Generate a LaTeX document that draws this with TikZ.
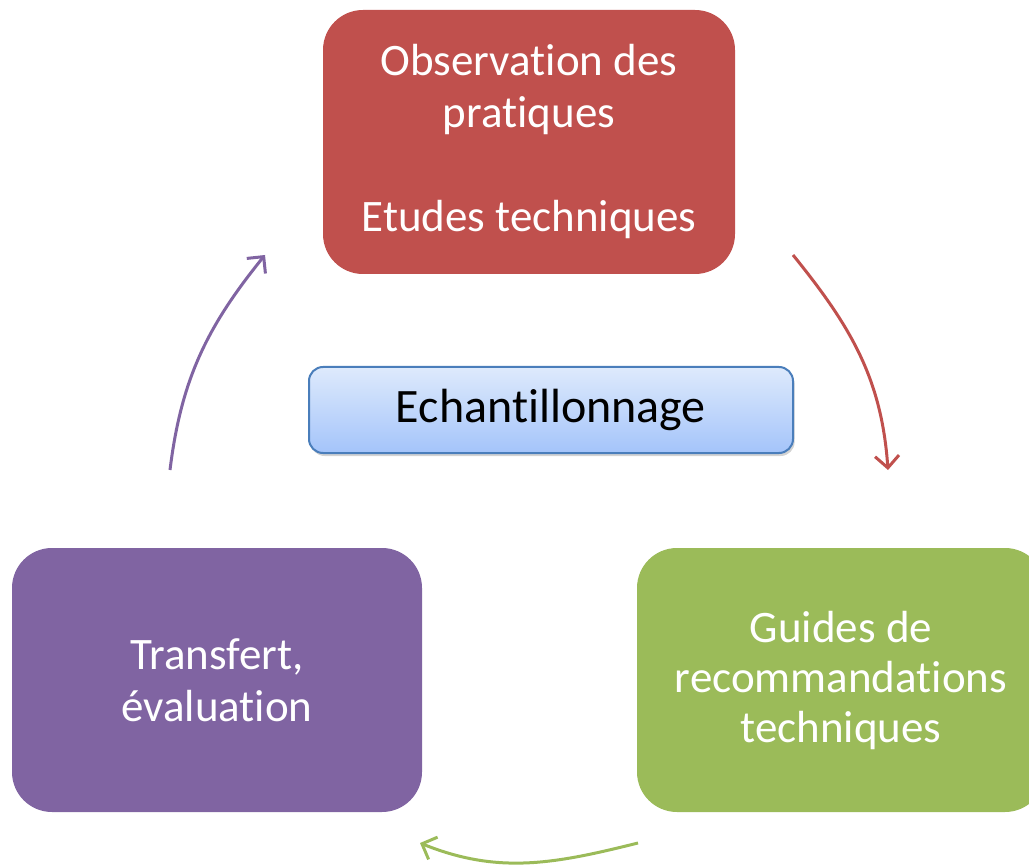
\documentclass[tikz,border=0pt]{standalone}
\usepackage{fontspec}
\setmainfont[Ligatures={NoCommon,NoRequired,NoContextual,NoRare}]{Carlito}
\usepackage{tikz}
\usetikzlibrary{arrows.meta,shadows}

\definecolor{boxred}{RGB}{192,80,77}
\definecolor{boxgreen}{RGB}{155,187,89}
\definecolor{boxpurple}{RGB}{128,100,162}
\definecolor{sampletop}{RGB}{222,234,252}
\definecolor{samplebot}{RGB}{164,196,250}
\definecolor{sampleline}{RGB}{74,126,187}

\begin{document}
\begin{tikzpicture}[x=0.5pt, y=0.5pt,
  stage/.style={rounded corners=20pt, minimum height=132pt, align=center,
    text=white, font=\fontsize{22.5}{26}\selectfont, inner sep=0pt},
  cyclearrow/.style={line width=1.5pt, -{Straight Barb[length=6pt, width=12pt, line width=1.5pt]}}]
%%%%% Frame %%%%%
\useasboundingbox (0,0) rectangle (1029,864);
%%%%% Stages %%%%%
\node[stage, fill=boxred, minimum width=206pt] (obs) at (529,722)
  {Observation des\\pratiques\\~\\Etudes techniques};
\node[stage, fill=boxgreen, minimum width=204pt, font=\fontsize{22.5}{25}\selectfont] (guides) at (841,184)
  {Guides de\\recommandations\\techniques};
\node[stage, fill=boxpurple, minimum width=205pt] (transfert) at (217,184)
  {Transfert,\\évaluation};
%%%%% Centre %%%%%
\node[rounded corners=7pt, draw=sampleline, line width=1pt, top color=sampletop,
  bottom color=samplebot, minimum width=242pt, minimum height=43pt,
  font=\fontsize{24}{28}\selectfont,
  drop shadow={shadow xshift=0.8pt, shadow yshift=-1.5pt, opacity=0.35}] (sample) at (551,454)
  {Echantillonnage};
%%%%% Arrows %%%%%
\coordinate (r1) at (793,609);
\coordinate (r2) at (888,394);
\coordinate (g1) at (638,21);
\coordinate (g2) at (420,21);
\coordinate (p1) at (170,394);
\coordinate (p2) at (265,609);
\draw[cyclearrow, color=boxred] (r1) to[out=-51, in=94] (r2);
\draw[cyclearrow, color=boxgreen] (g1) to[out=194, in=-22] (g2);
\draw[cyclearrow, color=boxpurple] (p1) to[out=83, in=231] (p2);
\end{tikzpicture}
\end{document}
